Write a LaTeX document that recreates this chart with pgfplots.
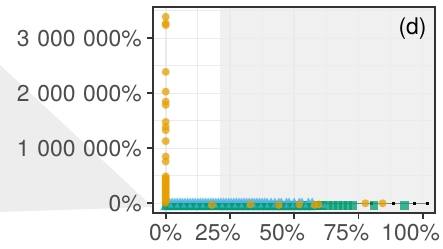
\documentclass[border=0pt]{standalone}
\usepackage{fontspec}
\setmainfont{TeX Gyre Heros}
\usepackage{pgfplots}
\pgfplotsset{compat=1.18}
\definecolor{cOr}{HTML}{E69F00}
\definecolor{cGr}{HTML}{009E73}
\definecolor{cBl}{HTML}{56B4E9}
\definecolor{ticktxt}{HTML}{4D4D4D}
\definecolor{framec}{HTML}{333333}
\definecolor{gridc}{HTML}{EBEBEB}
\definecolor{shadec}{HTML}{F0F0F0}
\definecolor{polyc}{HTML}{EDEDED}
\newcommand{\gs}{\hspace{0.33em}}
\newcommand{\ts}{\hspace*{24bp}}
\begin{document}
\begin{tikzpicture}[x=1bp,y=1bp]
\path[use as bounding box] (-152.7,-34.7) rectangle (290.3,213.3);
\fill[polyc] (-160,155.1) -- (0.3,6.3) -- (-160,1.1) -- cycle;
\fill[shadec] (67.3,0) rectangle (282.3,206);
\begin{axis}[
  at={(0,0)}, anchor=south west,
  scale only axis, width=282.3bp, height=206bp,
  xmin=-5.06, xmax=104.8, ymin=-181800, ymax=3563600,
  axis line style={draw=framec, line width=1.8bp},
  tick style={draw=framec, line width=1.8bp},
  major tick length=5.5bp, minor tick length=0bp,
  tick align=outside, tick pos=left,
  xtick={0,25,50,75,100},
  xticklabels={0\%,25\%\ts,50\%\ts,75\%\ts,100\%\ts},
  ytick={0,1000000,2000000,3000000},
  yticklabels={0\%,1\gs000\gs000\%,2\gs000\gs000\%,3\gs000\gs000\%},
  scaled y ticks=false, scaled x ticks=false,
  minor xtick={12.5,37.5,62.5,87.5},
  minor ytick={500000,1500000,2500000,3500000},
  grid=both,
  major grid style={draw=gridc, line width=1.6bp},
  minor grid style={draw=gridc, line width=0.9bp},
  every tick label/.append style={font=\fontsize{23}{27}\selectfont, text=ticktxt},
  xticklabel style={yshift=-2bp},
  yticklabel style={xshift=-2bp},
]
% reference line with small points
\addplot[draw=gray, line width=0.9bp, mark=square*, mark size=1.3bp, mark options={fill=black, draw=black}]
  coordinates {(0,0) (80,0) (88.6,0) (96.8,0) (101.8,0)};
% blue triangles, bottom row
\addplot[only marks, color=cBl, mark=triangle*, mark size=3.6bp, mark options={draw opacity=0, fill=cBl, fill opacity=0.8}]
  coordinates {(-1,-95000)(1,-95000)(3,-95000)(5,-95000)(7,-95000)(9,-95000)(11,-95000)(13,-95000)(15,-95000)(17,-95000)
  (19,-95000)(21,-95000)(23,-95000)(25,-95000)(27,-95000)(29,-95000)(31,-95000)(33,-95000)(35,-95000)(37,-95000)
  (39,-95000)(41,-95000)(43,-95000)(45,-95000)(47,-95000)(49,-95000)(51,-95000)(53,-95000)(55,-95000)(57,-95000)};
% green squares
\addplot[only marks, color=cGr, mark=square*, mark size=4.2bp, mark options={draw opacity=0, fill=cGr, fill opacity=0.75}]
  coordinates {(0,-40000)(1,-40000)(2,-40000)(3,-40000)(4,-40000)(5,-40000)(6,-40000)(7,-40000)(8,-40000)(9,-40000)
  (10,-40000)(11,-40000)(12,-40000)(13,-40000)(14,-40000)(15,-40000)(16,-40000)(17,-40000)(18,-40000)(19,-40000)
  (20,-40000)(21,-40000)(22,-40000)(23,-40000)(24,-40000)(25,-40000)(26,-40000)(27,-40000)(28,-40000)(29,-40000)
  (30,-40000)(31,-40000)(32,-40000)(33,-40000)(34,-40000)(35,-40000)(36,-40000)(37,-40000)(38,-40000)(39,-40000)
  (40,-40000)(41,-40000)(42,-40000)(43,-40000)(44,-40000)(45,-40000)(46,-40000)(47,-40000)(48,-40000)(49,-40000)
  (50,-40000)(51,-40000)(52,-40000)(53,-40000)(54,-40000)(55,-40000)(56,-40000)(57,-40000)(58,-40000)(59,-40000)(60,-40000)
  (61,-40000)(63,-40000)(65,-40000)(67,-40000)(69,-40000)(71,-40000)(73,-40000)(81,-40000)(93,-40000)};
% blue triangles, top row
\addplot[only marks, color=cBl, mark=triangle*, mark size=3.6bp, mark options={draw opacity=0, fill=cBl, fill opacity=0.85}]
  coordinates {(0.5,40000)(1.5,40000)(2.5,40000)(3.5,40000)(4.5,40000)(5.5,40000)(6.5,40000)(7.5,40000)(8.5,40000)(9.5,40000)
  (10.5,40000)(11.5,40000)(12.5,40000)(13.5,40000)(14.5,40000)(15.5,40000)(16.5,40000)(17.5,40000)(18.5,40000)(19.5,40000)
  (20.5,40000)(21.5,40000)(22.5,40000)(23.5,40000)(24.5,40000)(25.5,40000)(26.5,40000)(27.5,40000)(28.5,40000)(29.5,40000)
  (30.5,40000)(31.5,40000)(32.5,40000)(33.5,40000)(34.5,40000)(35.5,40000)(36.5,40000)(37.5,40000)(38.5,40000)(39.5,40000)
  (41,40000)(42.5,40000)(44,40000)(45,40000)(47,40000)(48,40000)(50,40000)(52,40000)(53,40000)(55.5,40000)(57,40000)};
% blue triangles over green (teeth)
\addplot[only marks, color=cBl, mark=triangle*, mark size=3.2bp, mark options={draw opacity=0, fill=cBl, fill opacity=0.6}]
  coordinates {(2,-50000)(4.5,-50000)(7,-50000)(9.5,-50000)(12,-50000)(14.5,-50000)(17,-50000)(19.5,-50000)(22,-50000)(24.5,-50000)
  (27,-50000)(29.5,-50000)(32,-50000)(34.5,-50000)(37,-50000)(39.5,-50000)(42,-50000)(44.5,-50000)(47,-50000)(49.5,-50000)
  (52,-50000)(54.5,-50000)(57,-50000)(58.5,-50000)(60.5,-50000)(62,-50000)};
% orange circles
\addplot[only marks, color=cOr, mark=*, mark size=4bp, mark options={draw opacity=0, fill=cOr, fill opacity=0.75}]
  coordinates {(0,3390000)(0,3270000)(0,3240000)(0,2390000)(0,2030000)(0,1850000)(0,1790000)(0,1480000)(0,1390000)(0,1330000)
  (0,1130000)(0,850000)(0,760000)
  (0,490000)(0,460000)(0,430000)(0,400000)(0,370000)(0,340000)(0,310000)(0,280000)(0,250000)(0,220000)(0,190000)(0,160000)
  (0,130000)(0,100000)(0,70000)(0,40000)(0,10000)
  (18,-30000)(33,-20000)(44,-30000)(52,-20000)(58,-30000)(59.5,-20000)(77.7,0)(84.4,0)};
\end{axis}
\node[anchor=north east, font=\fontsize{23}{27}\selectfont, inner sep=0pt] at (274,196) {(d)};
\end{tikzpicture}
\end{document}
